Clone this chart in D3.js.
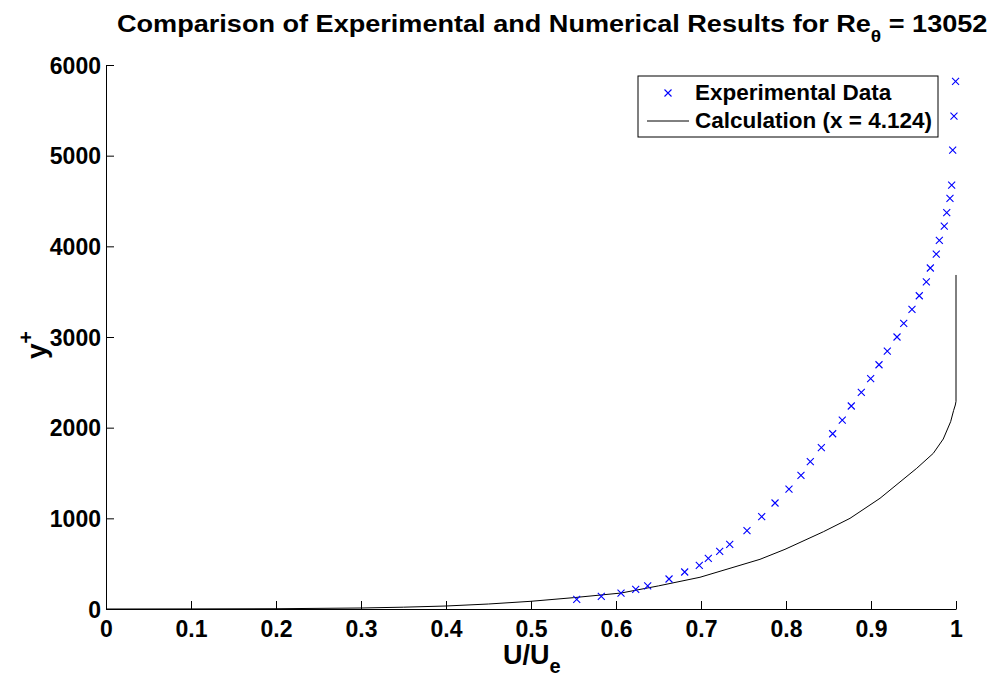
<!DOCTYPE html>
<html>
<head>
<meta charset="utf-8">
<script src="https://cdn.jsdelivr.net/npm/d3@7"></script>
<style>
  html, body { margin: 0; padding: 0; background: #fff; }
  svg { display: block; font-family: "Liberation Sans", Arial, Helvetica, sans-serif; font-weight: bold; }
</style>
</head>
<body>
<svg id="chart" width="999" height="681"></svg>
<script>
// Experimental velocity profile (U/Ue vs y+)
const expU = [0.5538, 0.5827, 0.6059, 0.6232, 0.6373, 0.6624, 0.6808, 0.6980, 0.7086, 0.7220,
              0.7338, 0.7541, 0.7714, 0.7871, 0.8035, 0.8176, 0.8286, 0.8416, 0.8549, 0.8662,
              0.8768, 0.8886, 0.8996, 0.9094, 0.9192, 0.9306, 0.9385, 0.9482, 0.9568, 0.9651,
              0.9698, 0.9768, 0.9804, 0.9862, 0.9891, 0.9929, 0.9949, 0.9961, 0.9976, 0.9995];
const expY = [107, 140, 176, 217, 254, 331, 408, 482, 559, 636,
              714, 864, 1018, 1169, 1323, 1475, 1625, 1779, 1933, 2084,
              2239, 2390, 2540, 2694, 2845, 3000, 3151, 3305, 3455, 3607,
              3761, 3915, 4066, 4224, 4371, 4530, 4676, 5062, 5437, 5820];

// Computed profile at x = 4.124
const calcU = [0, 0.1, 0.2, 0.3, 0.35, 0.4, 0.45, 0.5, 0.55, 0.6059, 0.65, 0.6988, 0.7694,
               0.7988, 0.8439, 0.8753, 0.9106, 0.9538, 0.9733, 0.985, 0.9937, 0.9972, 0.9992, 1.0, 1.0];
const calcY = [0, 1, 3, 11, 20, 33, 55, 85, 125, 176, 255, 350, 548,
               658, 852, 1000, 1221, 1552, 1717, 1875, 2066, 2190, 2250, 2290, 3684];

const xTicks = [0, 0.1, 0.2, 0.3, 0.4, 0.5, 0.6, 0.7, 0.8, 0.9, 1];
const yTicks = [0, 1000, 2000, 3000, 4000, 5000, 6000];

const legendLabels = ["Experimental Data", "Calculation (x = 4.124)"];

const svg = d3.select("#chart");
const x = d3.scaleLinear().domain([0, 1]).range([106, 956]);
const y = d3.scaleLinear().domain([0, 6000]).range([609, 65]);

// Axes (left and bottom only, ticks pointing inward)
const xAxis = d3.axisBottom(x).tickValues(xTicks).tickSizeInner(-8).tickSizeOuter(0)
  .tickPadding(12).tickFormat(d => d3.format("")(d));
const yAxis = d3.axisLeft(y).tickValues(yTicks).tickSizeInner(-8).tickSizeOuter(0)
  .tickPadding(5).tickFormat(d3.format("d"));

const gx = svg.append("g").attr("transform", `translate(0,${y(0)})`).call(xAxis);
const gy = svg.append("g").attr("transform", `translate(${x(0)},0)`).call(yAxis);
[gx, gy].forEach(g => {
  g.select(".domain").attr("stroke", "#000").attr("stroke-width", 1);
  g.selectAll(".tick line").attr("stroke", "#000");
  g.selectAll(".tick text").attr("fill", "#000")
    .style("font-size", "23px").style("font-weight", "bold")
    .style("font-family", '"Liberation Sans", Arial, sans-serif');
});
gx.selectAll(".tick text").attr("dy", "0.71em");
gy.selectAll(".tick text").attr("dy", "0.36em");

// Calculation line
const line = d3.line().x((d, i) => x(calcU[i])).y((d, i) => y(calcY[i]));
svg.append("path")
  .datum(calcU)
  .attr("d", line)
  .attr("fill", "none")
  .attr("stroke", "#000")
  .attr("stroke-width", 1);

// Experimental markers
const mk = 3.5;
const markers = svg.append("g").attr("stroke", "#0000ff").attr("stroke-width", 1.1);
markers.selectAll("path")
  .data(expU)
  .join("path")
  .attr("d", (d, i) => {
    const cx = x(d), cy = y(expY[i]);
    return `M${cx - mk},${cy - mk}L${cx + mk},${cy + mk}M${cx - mk},${cy + mk}L${cx + mk},${cy - mk}`;
  });

// Title, stretched horizontally to span from x=117 to x=988
const titleG = svg.append("g");
const title = titleG.append("text")
  .attr("x", 0).attr("y", 0)
  .style("font-size", "24px").attr("fill", "#000");
title.append("tspan").text("Comparison of Experimental and Numerical Results for Re");
title.append("tspan").attr("dy", 10).style("font-size", "17px").text("\u03b8");
title.append("tspan").attr("dy", -10).text(" = 13052");
const tw = title.node().getBBox().width;
titleG.attr("transform", `translate(117,32) scale(${871 / tw},1)`);

// Axis labels
const xl = svg.append("text").attr("x", 503).attr("y", 664)
  .style("font-size", "27px").attr("fill", "#000");
xl.append("tspan").text("U/U");
xl.append("tspan").attr("dy", 9).style("font-size", "20px").text("e");

const yl = svg.append("text")
  .attr("transform", "translate(46,359) rotate(-90)")
  .style("font-size", "28px").attr("fill", "#000");
yl.append("tspan").text("y");
yl.append("tspan").attr("dy", -13).style("font-size", "21px").text("+");

// Legend
const lg = svg.append("g");
lg.append("rect").attr("x", 638).attr("y", 76).attr("width", 300).attr("height", 61)
  .attr("fill", "#fff").attr("stroke", "#000").attr("stroke-width", 1);
const lmx = 668, lmy = 93;
lg.append("path")
  .attr("d", `M${lmx - mk},${lmy - mk}L${lmx + mk},${lmy + mk}M${lmx - mk},${lmy + mk}L${lmx + mk},${lmy - mk}`)
  .attr("stroke", "#0000ff").attr("stroke-width", 1.1);
lg.append("line").attr("x1", 647).attr("x2", 689).attr("y1", 121).attr("y2", 121)
  .attr("stroke", "#000").attr("stroke-width", 1);
lg.selectAll("text.lab")
  .data(legendLabels)
  .join("text")
  .attr("class", "lab")
  .attr("x", 695)
  .attr("y", (d, i) => 100 + i * 28)
  .style("font-size", "22.5px").attr("fill", "#000")
  .text(d => d);
</script>
</body>
</html>
